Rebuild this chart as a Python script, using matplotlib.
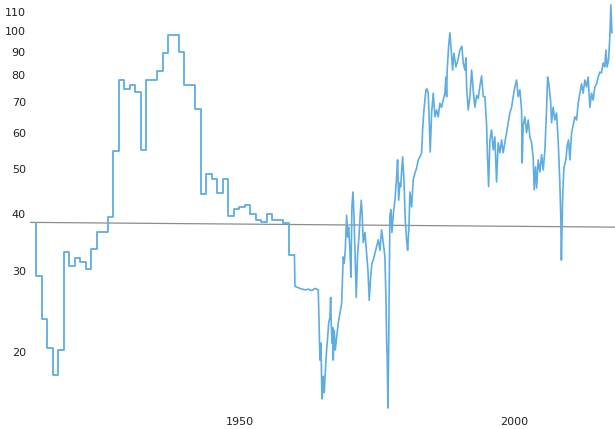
import matplotlib
matplotlib.use("Agg")
import matplotlib.pyplot as plt
from matplotlib.ticker import FixedLocator, NullLocator

# ---- annual values (drawn as steps) ----
annual_years = list(range(1913, 1961))
annual_values = [38.2, 29.3, 23.6, 20.4, 17.8, 20.2, 33.0, 30.8, 32.1, 31.4,
                 30.3, 33.5, 36.5, 36.5, 39.3, 54.7, 78.4, 74.7, 76.1, 73.6,
                 55.0, 78.2, 78.2, 81.8, 89.4, 98.0, 98.0, 90.0, 76.1, 76.1,
                 67.5, 44.1, 48.8, 47.5, 44.4, 47.5, 39.5, 41.0, 41.4, 41.8,
                 39.9, 38.7, 38.3, 39.9, 38.7, 38.7, 38.1, 32.5]

# ---- finer (monthly-ish) values after 1960 ----
fine_years = [1960.09, 1961.0, 1961.91, 1962.51, 1963.13, 1963.73, 1964.33, 1964.51,
              1964.64, 1964.82, 1964.95, 1965.05, 1965.24, 1965.42, 1965.67, 1965.85,
              1966.04, 1966.22, 1966.45, 1966.58, 1966.69, 1966.82, 1966.95, 1967.05,
              1967.24, 1967.42, 1967.67, 1967.96, 1968.27, 1968.58, 1968.76, 1968.87,
              1969.05, 1969.24, 1969.49, 1969.67, 1969.85, 1970.09, 1970.27, 1970.45,
              1970.64, 1970.82, 1971.0, 1971.24, 1971.49, 1971.73, 1971.96, 1972.15,
              1972.33, 1972.51, 1972.82, 1973.13, 1973.36, 1973.6, 1973.85, 1974.09,
              1974.33, 1974.64, 1974.95, 1975.24, 1975.55, 1975.85, 1976.15, 1976.45,
              1976.64, 1976.76, 1976.87, 1977.0, 1977.13, 1977.24, 1977.36, 1977.55,
              1977.73, 1977.96, 1978.27, 1978.58, 1978.76, 1978.95, 1979.18, 1979.31,
              1979.67, 1979.91, 1980.15, 1980.4, 1980.58, 1980.82, 1981.0, 1981.31,
              1981.6, 1981.91, 1982.22, 1982.51, 1982.82, 1983.13, 1983.31, 1983.55,
              1983.91, 1984.09, 1984.33, 1984.51, 1984.69, 1984.95, 1985.24, 1985.55,
              1985.85, 1986.15, 1986.45, 1986.76, 1987.05, 1987.36, 1987.55, 1987.67,
              1987.78, 1988.04, 1988.27, 1988.51, 1988.76, 1989.0, 1989.36, 1989.73,
              1990.09, 1990.45, 1990.69, 1991.0, 1991.18, 1991.31, 1991.6, 1991.91,
              1992.22, 1992.51, 1992.82, 1993.13, 1993.42, 1993.73, 1994.04, 1994.33,
              1994.64, 1994.95, 1995.13, 1995.31, 1995.55, 1995.85, 1996.15, 1996.45,
              1996.76, 1997.05, 1997.36, 1997.67, 1997.96, 1998.27, 1998.58, 1998.87,
              1999.18, 1999.49, 1999.78, 2000.09, 2000.4, 2000.69, 2001.0, 2001.31,
              2001.42, 2001.6, 2001.91, 2002.22, 2002.51, 2002.82, 2003.13, 2003.42,
              2003.6, 2003.85, 2004.04, 2004.33, 2004.64, 2004.95, 2005.24, 2005.55,
              2005.85, 2006.04, 2006.27, 2006.58, 2006.76, 2007.05, 2007.36, 2007.67,
              2007.96, 2008.27, 2008.45, 2008.55, 2008.76, 2009.0, 2009.36, 2009.6,
              2009.85, 2010.09, 2010.4, 2010.69, 2011.0, 2011.31, 2011.6, 2011.91,
              2012.22, 2012.51, 2012.82, 2013.13, 2013.42, 2013.73, 2014.04, 2014.33,
              2014.64, 2014.95, 2015.24, 2015.55, 2015.85, 2016.15, 2016.45, 2016.64,
              2016.87, 2017.13, 2017.36, 2017.55, 2017.73]
fine_values = [27.8, 27.5, 27.3, 27.4, 27.2, 27.5, 27.3, 22.3,
               19.2, 20.9, 17.1, 15.8, 17.7, 16.3, 18.6, 20.2,
               21.5, 23.1, 23.8, 26.3, 23.1, 20.9, 22.6, 19.2,
               22.3, 20.2, 21.5, 23.1, 24.3, 25.5, 29.7, 32.2,
               31.2, 33.3, 39.7, 35.6, 37.4, 33.3, 29.1, 41.4,
               44.6, 39.7, 33.3, 26.3, 32.8, 35.6, 39.7, 42.8,
               39.7, 34.6, 36.4, 32.8, 30.2, 25.9, 29.1, 31.2,
               31.7, 32.8, 33.9, 35.1, 33.3, 36.9, 34.6, 32.2,
               26.3, 21.2, 19.5, 15.1, 20.2, 28.3, 39.7, 40.8,
               36.4, 39.7, 42.8, 48.1, 52.4, 42.8, 46.7, 45.8,
               53.2, 47.4, 38.8, 35.1, 33.3, 37.4, 44.6, 41.4,
               47.4, 49.0, 50.3, 52.4, 53.2, 54.3, 60.9, 67.3,
               74.4, 74.8, 73.2, 64.0, 54.5, 66.3, 73.2, 65.0,
               67.3, 65.0, 69.6, 68.2, 70.7, 73.2, 79.4, 71.9,
               82.2, 92.6, 99.1, 90.9, 82.2, 89.5, 83.5, 86.5,
               90.9, 92.6, 85.2, 82.2, 87.4, 75.5, 67.3, 72.0,
               82.2, 74.4, 68.2, 72.4, 71.3, 75.9, 79.8, 72.0,
               71.9, 62.3, 52.4, 45.8, 57.9, 60.9, 55.1, 58.8,
               46.9, 57.1, 54.3, 57.9, 54.3, 57.1, 60.0, 63.1,
               66.3, 68.2, 71.9, 75.5, 78.2, 71.9, 74.4, 67.3,
               51.6, 62.3, 65.0, 60.0, 64.0, 58.8, 57.1, 53.0,
               45.1, 50.6, 45.5, 52.4, 49.3, 53.8, 49.8, 55.1,
               67.3, 79.4, 76.7, 70.7, 63.1, 68.2, 64.0, 66.3,
               57.9, 46.7, 38.8, 31.7, 42.8, 50.3, 52.4, 56.1,
               57.9, 52.4, 60.0, 62.3, 65.0, 64.0, 69.6, 73.2,
               76.7, 73.2, 78.2, 75.5, 79.4, 68.2, 73.2, 70.7,
               75.5, 76.7, 79.4, 81.4, 81.0, 85.2, 83.5, 90.9,
               83.5, 86.5, 96.9, 114.0, 99.1]

# ---- reference line (slightly slanted in the original) ----
ref_years = [1911.9, 2018.3]
ref_values = [38.3, 37.4]

y_ticks = [20, 30, 40, 50, 60, 70, 80, 90, 100, 110]
x_ticks = [1950, 2000]

blue = "#5dade2"

fig = plt.figure(figsize=(6.15, 4.29), dpi=100)
ax = fig.add_axes([30 / 615, 1 - 410 / 429, 585 / 615, 410 / 429])

ax.plot(ref_years, ref_values, color="#8c8c8c", lw=0.9, zorder=1)
ax.plot(annual_years, annual_values, drawstyle="steps-pre", color=blue, lw=1.3, zorder=2)
ax.plot([annual_years[-1]] + fine_years, [annual_values[-1]] + fine_values,
        color=blue, lw=1.2, zorder=2)

ax.set_yscale("log")
ax.set_ylim(14.95, 116.8)
ax.set_xlim(1911.9, 2018.3)

ax.yaxis.set_major_locator(FixedLocator(y_ticks))
ax.yaxis.set_minor_locator(NullLocator())
ax.set_yticklabels([str(t) for t in y_ticks])
ax.xaxis.set_major_locator(FixedLocator(x_ticks))
ax.xaxis.set_minor_locator(NullLocator())
ax.set_xticklabels([str(t) for t in x_ticks])

ax.tick_params(axis="both", length=0, labelsize=8, colors="#222222")
ax.tick_params(axis="y", pad=3)
ax.tick_params(axis="x", pad=5)
for s in ax.spines.values():
    s.set_visible(False)

fig.savefig("out.png", dpi=100)
